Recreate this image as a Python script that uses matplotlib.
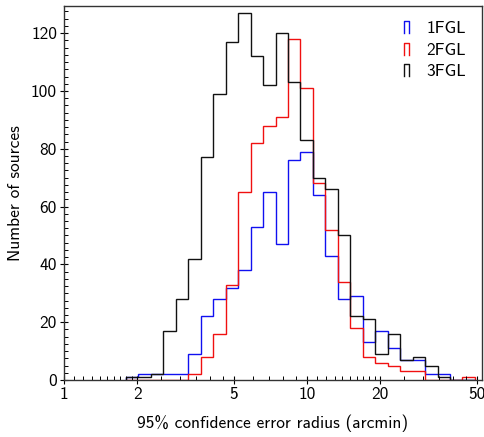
import numpy as np
import matplotlib
matplotlib.use("Agg")
import matplotlib.pyplot as plt
from matplotlib.patches import StepPatch
from matplotlib.legend_handler import HandlerBase
from matplotlib.lines import Line2D
from matplotlib.ticker import FixedLocator, NullFormatter

plt.rcParams['font.family'] = ['cmss10', 'DejaVu Sans']
plt.rcParams['axes.unicode_minus'] = False
plt.rcParams['axes.formatter.use_mathtext'] = False

# log-spaced bin edges (arcmin)
log_lo, log_step, n_bins = 0.255, 0.0513, 28
bin_edges = 10 ** (log_lo + log_step * np.arange(n_bins + 1))

counts_1fgl = [1, 2, 2, 2, 2, 9, 22, 28, 32, 38, 53, 65, 47, 76, 79, 64, 43, 28, 29, 13, 17, 11, 7, 7, 2, 2, 0, 0]
counts_2fgl = [0, 0, 0, 0, 0, 2, 8, 16, 33, 65, 82, 88, 91, 118, 101, 68, 52, 34, 18, 8, 6, 5, 3, 3, 0, 0, 0, 1]
counts_3fgl = [1, 1, 2, 17, 28, 42, 77, 99, 117, 127, 112, 102, 120, 103, 83, 70, 66, 50, 22, 21, 9, 16, 7, 8, 5, 1, 0, 0]

series_labels = ["1FGL", "2FGL", "3FGL"]
series_colors = ["#1010f0", "#f01010", "#111111"]

x_major = [1, 2, 5, 10, 20, 50]
x_minor = [1.1, 1.2, 1.3, 1.4, 1.5, 1.6, 1.7, 1.8, 1.9, 2.5, 3, 3.5, 4, 4.5,
           6, 7, 8, 9, 11, 12, 13, 14, 15, 16, 17, 18, 19, 25, 30, 35, 40, 45]
y_major = [0, 20, 40, 60, 80, 100, 120]


class HandlerCap(HandlerBase):
    def create_artists(self, legend, orig_handle, xdescent, ydescent,
                       width, height, fontsize, trans):
        h = height * 1.0
        w = h * 0.45
        x0 = -xdescent + width / 2 - w / 2
        y0 = -ydescent + (height - h) / 2
        ln = Line2D([x0, x0, x0 + w, x0 + w], [y0, y0 + h, y0 + h, y0],
                    color=orig_handle.get_edgecolor(), lw=1.0)
        ln.set_transform(trans)
        return [ln]


fig = plt.figure(figsize=(4.85, 4.37), dpi=100)
ax = fig.add_axes([64 / 485, 1 - 380 / 437, (481.7 - 64) / 485, (380 - 5.7) / 437])

handles = []
for counts, lab, col in zip([counts_1fgl, counts_2fgl, counts_3fgl], series_labels, series_colors):
    sp = ax.stairs(counts, bin_edges, color=col, lw=1.0, label=lab, baseline=0)
    handles.append(sp)

ax.set_xscale('log')
ax.set_xlim(1, 52.4)
ax.set_ylim(0, 129.5)

ax.xaxis.set_major_locator(FixedLocator(x_major))
ax.set_xticklabels([str(v) for v in x_major])
ax.xaxis.set_minor_locator(FixedLocator(x_minor))
ax.xaxis.set_minor_formatter(NullFormatter())
ax.set_yticks(y_major)
ax.yaxis.set_minor_locator(FixedLocator(np.arange(0, 130, 2.5)))

ax.tick_params(which='major', direction='inout', length=6, width=0.8, labelsize=12.5, pad=2)
ax.tick_params(which='minor', direction='in', length=3, width=0.7)
for s in ax.spines.values():
    s.set_linewidth(1.0)
    s.set_color('#333333')

ax.set_xlabel("95% confidence error radius (arcmin)", fontsize=12.5, labelpad=9)
ax.set_ylabel("Number of sources", fontsize=12.5, labelpad=6)

ax.legend(handles=handles, labels=series_labels, loc='upper right',
          frameon=False, fontsize=12.5, handlelength=0.7, handletextpad=0.8,
          labelspacing=0.35, borderaxespad=0.5,
          handler_map={StepPatch: HandlerCap()})

fig.savefig("out.png", dpi=100)
